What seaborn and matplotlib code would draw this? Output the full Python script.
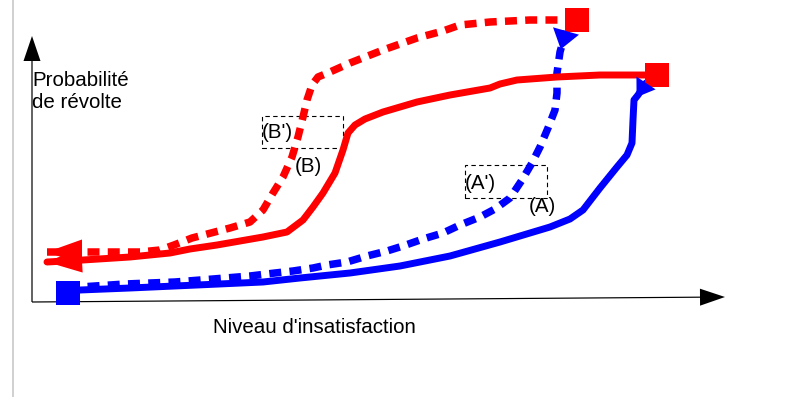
import numpy as np
import matplotlib.pyplot as plt
import seaborn as sns
from matplotlib.patches import Rectangle

# curves (x: niveau d'insatisfaction, y: probabilité), 1 unit = 1 px
b_prime_x = [15, 61, 108, 128, 142, 160, 179, 198, 218, 231, 241, 251, 260, 266, 271, 275,
             280, 286, 298, 318, 351, 385, 411, 428, 458, 498, 545]
b_prime_y = [50, 50, 50, 52, 57, 64, 69, 74, 80, 92, 109, 125, 145, 165, 185, 202,
             217, 225, 230, 239, 252, 264, 271, 277, 280, 282, 282]

b_x = [15, 51, 98, 138, 158, 185, 231, 255, 271, 281, 291, 303, 311, 316, 323, 333,
       351, 385, 418, 458, 468, 485, 525, 568, 625]
b_y = [40, 42, 45, 49, 53, 57, 65, 70, 82, 95, 109, 129, 152, 169, 177, 183,
       190, 200, 207, 214, 218, 222, 225, 227, 227]

a_x = [36, 48, 98, 165, 231, 268, 318, 368, 418, 468, 518, 538, 551, 568, 585, 595,
       600, 601, 602, 606, 614]
a_y = [9, 12, 14, 17, 20, 24, 29, 36, 46, 60, 75, 83, 92, 114, 135, 147,
       159, 182, 202, 207, 219]

a_prime_x = [36, 48, 93, 143, 181, 218, 243, 261, 281, 295, 315, 335, 355, 371, 391, 411,
             428, 448, 463, 478, 490, 500, 508, 516, 523, 525, 525, 528, 534]
a_prime_y = [11, 15, 18, 20, 23, 26, 29, 31, 34, 37, 40, 46, 51, 56, 63, 69,
             77, 85, 93, 104, 122, 139, 155, 174, 192, 209, 229, 250, 271]

labels = ["(B')", "(B)", "(A')", "(A)"]
label_x = [230, 263, 433, 497]
label_y = [164, 130, 113, 90]

RED = "#ff0000"
BLUE = "#0000ff"


def head(ax, xs, ys, at_start, back, length, width, color):
    # arrow head at one end of a curve; back=True points it back along the curve
    i, j = (0, 1) if at_start else (-1, -2)
    p = np.array([xs[i], ys[i]], float)
    q = np.array([xs[j], ys[j]], float)
    u = (q - p) / np.hypot(*(q - p))
    if back:
        start, d = p, u * length
    else:
        start, d = p + u * length, -u * length
    ax.arrow(start[0], start[1], d[0], d[1], width=0, head_width=width, head_length=length,
             length_includes_head=True, fc=color, ec=color, lw=0, zorder=6)


sns.set_style("white")
plt.rcParams["font.family"] = ["Liberation Sans", "DejaVu Sans"]
plt.rcParams["text.color"] = "black"

fig = plt.figure(figsize=(7.9, 3.97), dpi=100)
ax = fig.add_axes([0, 0, 1, 1])
ax.set_xlim(-32, 758)
ax.set_ylim(-95, 302)
ax.axis("off")

ax.axvline(-19, color="#c8c8c8", lw=1.2)

# axes with arrows
ax.arrow(0, 0, 0, 266, width=1.2, head_width=17, head_length=25,
         length_includes_head=True, fc="k", ec="k", lw=0)
ax.arrow(0, 0, 693, 5, width=1.2, head_width=17, head_length=25,
         length_includes_head=True, fc="k", ec="k", lw=0)

dash = (0, (1.6, 1.1))
sns.lineplot(x=a_x, y=a_y, sort=False, estimator=None, ax=ax, color=BLUE, lw=5,
             solid_joinstyle="round", zorder=2)
sns.lineplot(x=a_prime_x, y=a_prime_y, sort=False, estimator=None, ax=ax, color=BLUE, lw=5.4,
             linestyle=dash, dash_joinstyle="round", zorder=2)
sns.lineplot(x=b_x, y=b_y, sort=False, estimator=None, ax=ax, color=RED, lw=5,
             solid_joinstyle="round", zorder=3)
sns.lineplot(x=b_prime_x, y=b_prime_y, sort=False, estimator=None, ax=ax, color=RED, lw=5.4,
             linestyle=dash, dash_joinstyle="round", zorder=3)

# end squares
sns.scatterplot(x=[b_prime_x[-1], b_x[-1]], y=[b_prime_y[-1], b_y[-1]], ax=ax, marker="s",
                s=300, color=RED, linewidth=0, zorder=5)
sns.scatterplot(x=[a_x[0]], y=[a_y[0]], ax=ax, marker="s", s=320, color=BLUE,
                linewidth=0, zorder=5)

head(ax, b_prime_x, b_prime_y, True, False, 35, 25, RED)
head(ax, b_x, b_y, True, False, 35, 25, RED)
head(ax, a_prime_x, a_prime_y, False, True, 19, 27, BLUE)
head(ax, a_x, a_y, False, True, 17, 23, BLUE)

# dashed label boxes
for x0, y0, w, h in [(230, 154, 81, 32), (433, 104, 82, 33)]:
    ax.add_patch(Rectangle((x0, y0), w, h, fill=False, ec="k", lw=0.8,
                           ls=(0, (4, 3)), zorder=1))

for t, x, y in zip(labels, label_x, label_y):
    ax.text(x, y, t, fontsize=14.8, va="baseline", ha="left", zorder=7)

ax.text(0, 216, "Probabilité", fontsize=14.8, va="baseline", ha="left")
ax.text(0, 194, "de révolte", fontsize=14.8, va="baseline", ha="left")
ax.text(181, -31, "Niveau d'insatisfaction", fontsize=14.8, va="baseline", ha="left")

fig.savefig("out.png", dpi=100)
plt.close(fig)
